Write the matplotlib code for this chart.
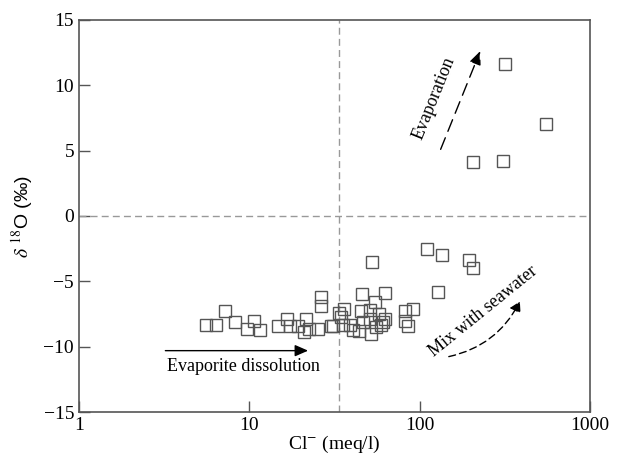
import matplotlib.pyplot as plt
import numpy as np
from matplotlib.patches import FancyArrowPatch

# data
cl = [5.6, 6.4, 7.2, 8.3, 9.7, 10.6, 11.6, 14.7, 16.6, 17.3, 19.2, 21.6, 21.0,
      22.4, 25.2, 26.5, 26.5, 30.3, 31.0, 33.8, 34.4, 35.4, 36.2, 38.9, 40.6,
      44.3, 45.5, 46.1, 46.4, 50.8, 50.8, 51.9, 54.4, 55.6, 58.1, 59.4, 60.9,
      62.3, 62.4, 81.6, 81.6, 85.2, 91.4, 52.3, 110, 135, 196, 205, 128,
      207, 307, 316, 550]
d18o = [-8.3, -8.3, -7.3, -8.1, -8.65, -8.0, -8.7, -8.4, -7.9, -8.4, -8.4, -7.9, -8.9,
        -8.65, -8.65, -6.2, -6.9, -8.4, -8.4, -7.4, -7.7, -8.3, -7.1, -8.3, -8.7,
        -8.8, -7.3, -6.0, -8.1, -7.2, -7.9, -9.0, -6.6, -8.5, -7.5, -8.3, -8.1,
        -5.9, -7.9, -7.25, -8.0, -8.4, -7.1, -3.5, -2.5, -3.0, -3.4, -4.0, -5.8,
        4.1, 4.2, 11.6, 7.0]

xticks = [1, 10, 100, 1000]
yticks = [-15, -10, -5, 0, 5, 10, 15]

plt.rcParams['font.family'] = ['Liberation Serif', 'DejaVu Serif']
plt.rcParams['mathtext.fontset'] = 'stix'

fig = plt.figure(figsize=(6.31, 4.62), dpi=100)
ax = fig.add_axes([0.125, 0.108, 0.81, 0.849])

ax.axhline(0, color='#999999', lw=1, ls=(0, (5, 3)))
ax.axvline(33.5, color='#999999', lw=1, ls=(0, (5, 3)))

ax.plot(cl, d18o, 's', ms=9, mfc='none', mec='#555555', mew=1)

# Evaporite dissolution
ax.annotate('', xy=(23, -10.3), xytext=(3.1, -10.3),
            arrowprops=dict(arrowstyle='-|>,head_length=0.8,head_width=0.35', color='black', lw=1))
ax.text(3.3, -11.5, 'Evaporite dissolution', fontsize=13, va='center', ha='left')

# Evaporation
ax.annotate('', xy=(230, 12.8), xytext=(131, 4.9),
            arrowprops=dict(arrowstyle='-|>,head_length=0.8,head_width=0.35', color='black',
                            lw=1, ls=(0, (9, 5))))
ax.text(122, 9.0, 'Evaporation', fontsize=13, rotation=68, ha='center', va='center')

# Mix with seawater
arr = FancyArrowPatch((143, -10.8), (394, -6.35), connectionstyle='arc3,rad=0.25',
                      arrowstyle='-|>,head_length=6,head_width=3.5', color='black', lw=1,
                      ls=(0, (5, 3)))
ax.add_patch(arr)
ax.text(235, -7.3, 'Mix with seawater', fontsize=13, rotation=39, ha='center', va='center')

ax.set_xscale('log')
ax.set_xlim(1, 1000)
ax.set_ylim(-15, 15)
ax.set_xticks(xticks)
ax.set_xticklabels([str(t) for t in xticks])
ax.set_yticks(yticks)
ax.set_yticklabels([str(t).replace('-', '\u2212') for t in yticks])
ax.minorticks_off()
ax.tick_params(direction='in', length=8, width=1, labelsize=14, color='#555555')
for s in ax.spines.values():
    s.set_color('#555555')
    s.set_linewidth(1.2)

ax.set_xlabel('Cl$^{-}$ (meq/l)', fontsize=14, labelpad=0)
ax.set_ylabel('$\\delta$ $^{18}$O (‰)', fontsize=14, family=['Liberation Sans', 'DejaVu Sans'],
              labelpad=6)

fig.savefig('out.png', dpi=100)
